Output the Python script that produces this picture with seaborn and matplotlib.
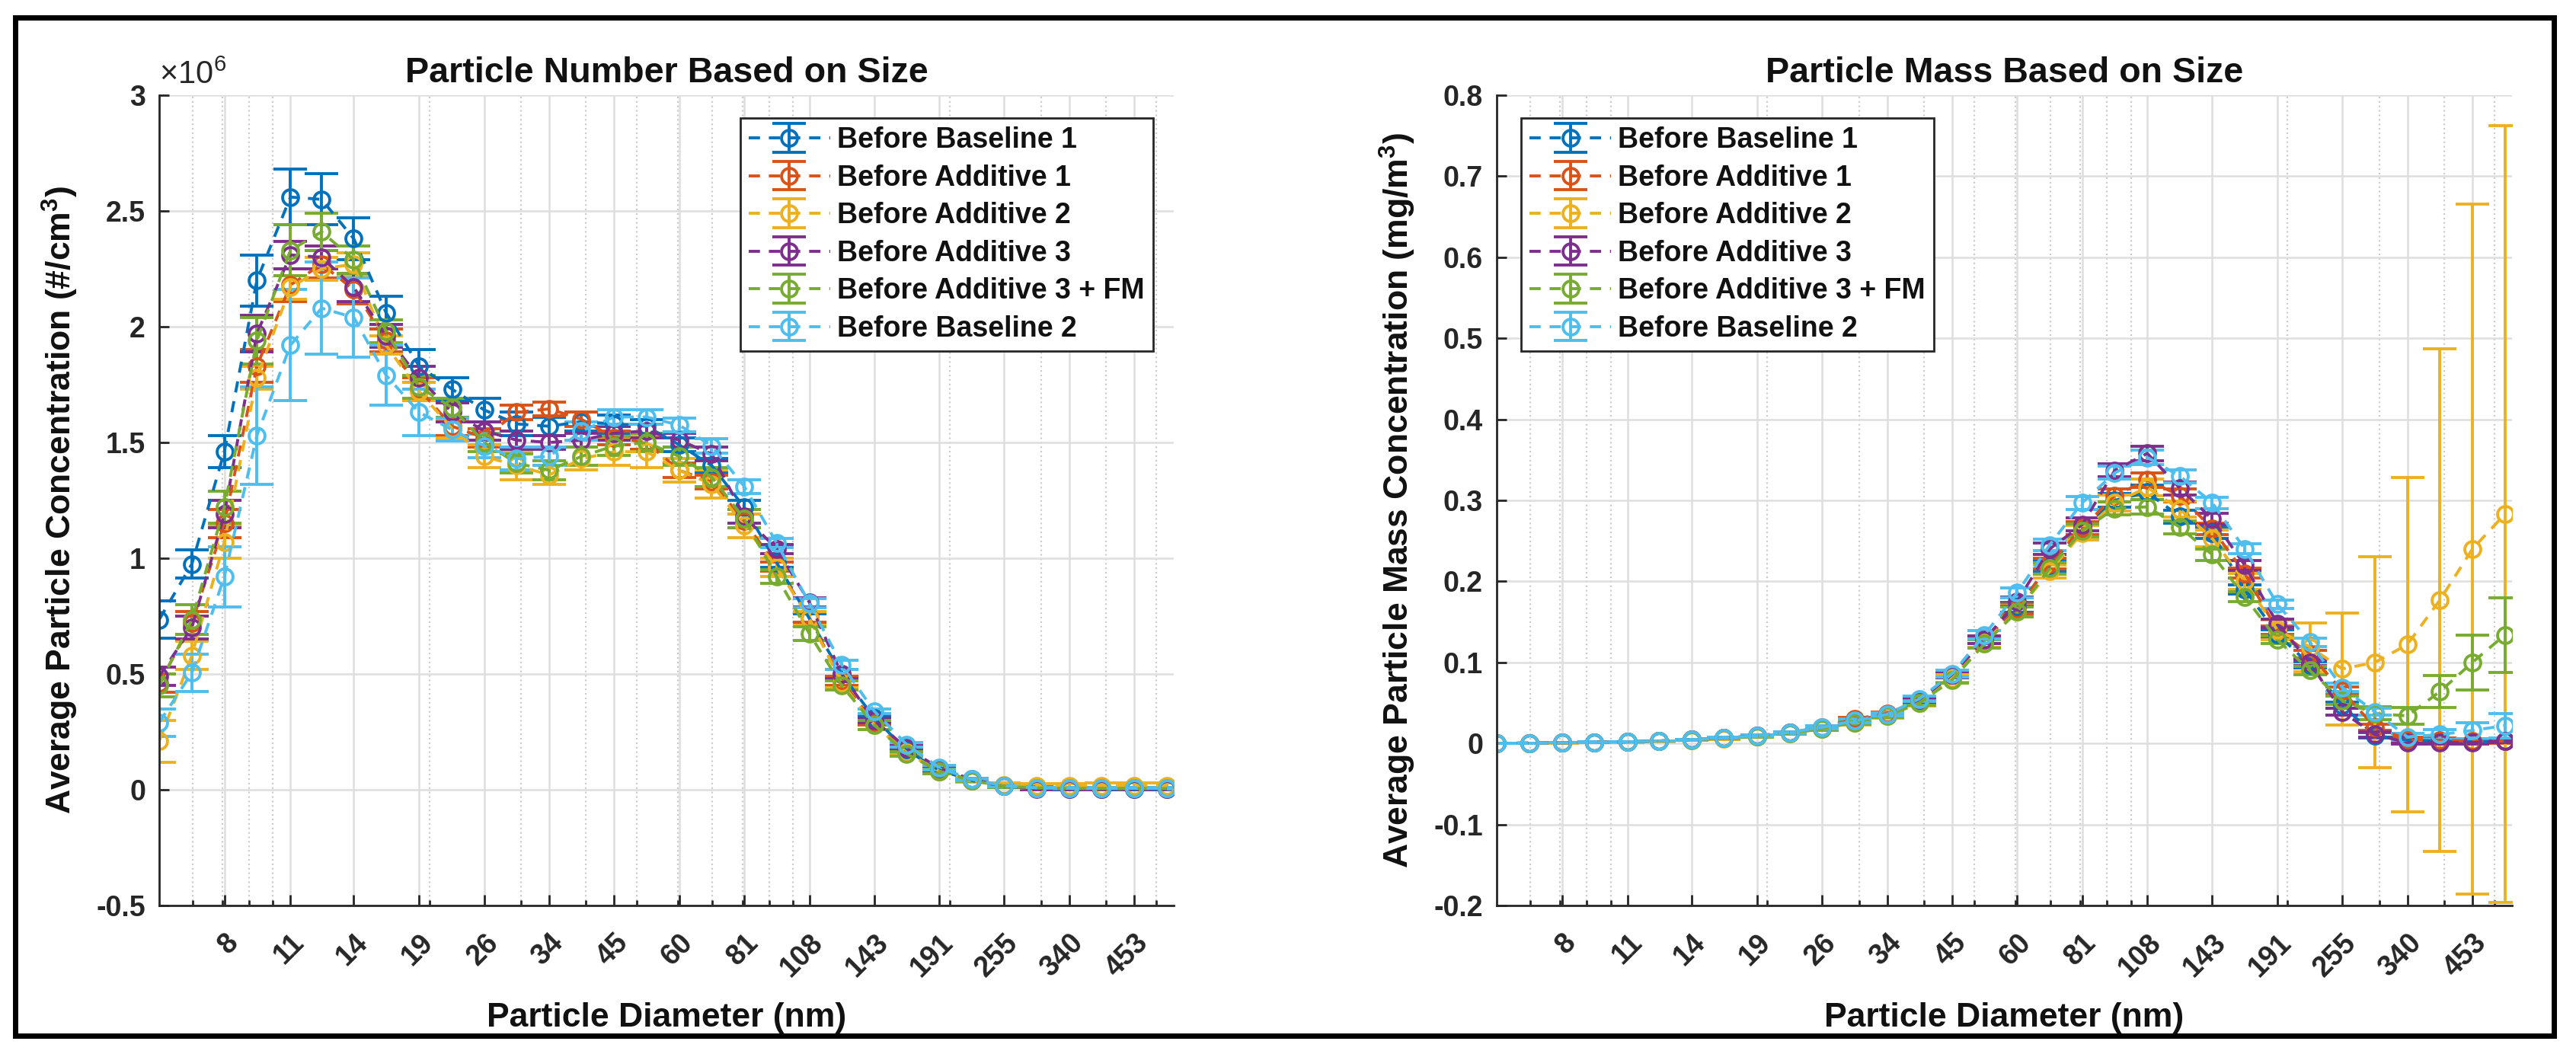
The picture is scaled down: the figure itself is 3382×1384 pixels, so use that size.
import numpy as np
import matplotlib
matplotlib.use('Agg')
import matplotlib.pyplot as plt
from matplotlib.ticker import LogLocator, NullFormatter
from matplotlib.patches import Rectangle
import seaborn as sns

# EEPS channel mid-point diameters (nm)
diameters = [6.04, 6.98, 8.06, 9.31, 10.8, 12.4, 14.3, 16.5, 19.1, 22.1, 25.5, 29.4,
             34.0, 39.2, 45.3, 52.3, 60.4, 69.8, 80.6, 93.1, 107.5, 124.1, 143.3, 165.5,
             191.1, 220.7, 254.8, 294.3, 339.8, 392.4, 453.2, 523.3]
tick_values = [8.06, 10.8, 14.3, 19.1, 25.5, 34.0, 45.3, 60.4, 80.6, 107.5, 143.3, 191.1,
               254.8, 339.8, 453.2]
tick_labels = ['8', '11', '14', '19', '26', '34', '45', '60', '81', '108', '143', '191',
               '255', '340', '453']

series_names = ['Before Baseline 1', 'Before Additive 1', 'Before Additive 2',
                'Before Additive 3', 'Before Additive 3 + FM', 'Before Baseline 2']
series_colors = ['#0072BD', '#D95319', '#EDB120', '#7E2F8E', '#77AC30', '#4DBEEE']

# particle number (x 10^6 #/cm3)
number_baseline_1 = [0.735, 0.975, 1.46, 2.20, 2.56, 2.55, 2.38, 2.06, 1.83, 1.73, 1.64, 1.58,
                     1.57, 1.59, 1.58, 1.57, 1.49, 1.40, 1.22, 0.98, 0.74, 0.50, 0.31, 0.17,
                     0.085, 0.04, 0.015, 0.006, 0.004, 0.003, 0.002, 0.002]
number_baseline_1_err = [0.08, 0.06, 0.07, 0.11, 0.12, 0.11, 0.09, 0.07, 0.07, 0.05, 0.05, 0.05,
                         0.04, 0.04, 0.04, 0.03, 0.03, 0.03, 0.03, 0.02, 0.02, 0.02, 0.01, 0.01,
                         0.01, 0.005, 0.004, 0.003, 0.003, 0.003, 0.003, 0.003]
number_additive_1 = [0.46, 0.72, 1.15, 1.83, 2.18, 2.27, 2.16, 1.94, 1.73, 1.57, 1.52, 1.63,
                     1.645, 1.60, 1.52, 1.50, 1.38, 1.33, 1.16, 0.965, 0.745, 0.47, 0.29, 0.16,
                     0.08, 0.04, 0.015, 0.008, 0.006, 0.005, 0.005, 0.005]
number_additive_1_err = [0.04, 0.05, 0.06, 0.07, 0.07, 0.06, 0.06, 0.05, 0.05, 0.04, 0.04, 0.03,
                         0.03, 0.03, 0.03, 0.03, 0.03, 0.03, 0.03, 0.02, 0.02, 0.02, 0.01, 0.01,
                         0.01, 0.005, 0.004, 0.004, 0.004, 0.004, 0.004, 0.004]
number_additive_2 = [0.21, 0.58, 1.07, 1.78, 2.17, 2.25, 2.27, 1.92, 1.72, 1.56, 1.44, 1.40,
                     1.36, 1.43, 1.46, 1.46, 1.38, 1.32, 1.14, 0.96, 0.74, 0.46, 0.28, 0.16,
                     0.08, 0.04, 0.02, 0.015, 0.015, 0.018, 0.018, 0.017]
number_additive_2_err = [0.09, 0.06, 0.07, 0.05, 0.05, 0.05, 0.05, 0.04, 0.04, 0.04, 0.05, 0.06,
                         0.04, 0.05, 0.06, 0.07, 0.05, 0.06, 0.05, 0.04, 0.03, 0.02, 0.02, 0.01,
                         0.01, 0.008, 0.008, 0.01, 0.012, 0.012, 0.012, 0.012]
number_additive_3 = [0.49, 0.70, 1.19, 1.97, 2.31, 2.30, 2.17, 1.96, 1.78, 1.63, 1.55, 1.51,
                     1.50, 1.51, 1.54, 1.55, 1.51, 1.45, 1.18, 1.04, 0.81, 0.50, 0.30, 0.18,
                     0.093, 0.045, 0.015, 0.003, 0.003, 0.003, 0.002, 0.002]
number_additive_3_err = [0.04, 0.05, 0.06, 0.08, 0.06, 0.05, 0.06, 0.05, 0.05, 0.04, 0.04, 0.04,
                         0.03, 0.03, 0.03, 0.03, 0.03, 0.03, 0.03, 0.02, 0.02, 0.02, 0.01, 0.01,
                         0.01, 0.005, 0.003, 0.002, 0.002, 0.002, 0.002, 0.002]
number_additive_3_fm = [0.45, 0.735, 1.22, 1.94, 2.33, 2.41, 2.29, 1.98, 1.74, 1.65, 1.50, 1.41,
                        1.38, 1.44, 1.485, 1.50, 1.44, 1.35, 1.17, 0.92, 0.675, 0.45, 0.28, 0.155,
                        0.08, 0.04, 0.015, 0.008, 0.006, 0.005, 0.005, 0.005]
number_additive_3_fm_err = [0.05, 0.065, 0.07, 0.10, 0.11, 0.08, 0.06, 0.05, 0.05, 0.04, 0.04, 0.04,
                            0.04, 0.04, 0.04, 0.04, 0.04, 0.04, 0.04, 0.03, 0.03, 0.02, 0.02, 0.01,
                            0.01, 0.005, 0.004, 0.003, 0.003, 0.003, 0.003, 0.003]
number_baseline_2 = [0.29, 0.505, 0.92, 1.53, 1.92, 2.08, 2.04, 1.79, 1.63, 1.555, 1.485, 1.43,
                     1.44, 1.55, 1.61, 1.61, 1.575, 1.485, 1.31, 1.065, 0.806, 0.54, 0.34, 0.195,
                     0.095, 0.045, 0.016, 0.008, 0.006, 0.006, 0.006, 0.006]
number_baseline_2_err = [0.06, 0.08, 0.13, 0.21, 0.24, 0.20, 0.17, 0.13, 0.10, 0.05, 0.05, 0.05,
                         0.04, 0.04, 0.03, 0.03, 0.03, 0.03, 0.03, 0.02, 0.02, 0.02, 0.01, 0.01,
                         0.01, 0.005, 0.004, 0.003, 0.003, 0.003, 0.003, 0.003]

# particle mass (mg/m3)
mass_baseline_1 = [0.0002, 0.0004, 0.0008, 0.0014, 0.002, 0.003, 0.0045, 0.0065, 0.009, 0.013,
                   0.019, 0.027, 0.035, 0.053, 0.085, 0.128, 0.168, 0.22, 0.265, 0.30, 0.31,
                   0.28, 0.26, 0.19, 0.135, 0.097, 0.047, 0.01, 0.004, 0.003, 0.002, 0.003]
mass_baseline_1_err = [0.0001, 0.0001, 0.0001, 0.0002, 0.0002, 0.0003, 0.0004, 0.0005, 0.0007,
                       0.001, 0.0015, 0.002, 0.002, 0.003, 0.004, 0.005, 0.006, 0.007, 0.008,
                       0.008, 0.009, 0.008, 0.007, 0.006, 0.005, 0.004, 0.004, 0.003, 0.002,
                       0.002, 0.002, 0.002]
mass_additive_1 = [0.0002, 0.0004, 0.0008, 0.0014, 0.002, 0.003, 0.0046, 0.0067, 0.0095, 0.0135,
                   0.02, 0.03, 0.037, 0.053, 0.085, 0.128, 0.166, 0.222, 0.266, 0.306, 0.325,
                   0.306, 0.265, 0.21, 0.14, 0.11, 0.065, 0.02, 0.005, 0.004, 0.003, 0.003]
mass_additive_1_err = [0.0001, 0.0001, 0.0001, 0.0002, 0.0002, 0.0003, 0.0004, 0.0005, 0.0007,
                       0.001, 0.0015, 0.002, 0.002, 0.003, 0.004, 0.005, 0.006, 0.007, 0.008,
                       0.008, 0.009, 0.008, 0.007, 0.006, 0.005, 0.005, 0.005, 0.004, 0.003,
                       0.003, 0.003, 0.003]
mass_additive_2 = [0.0002, 0.0004, 0.0007, 0.0012, 0.0018, 0.0028, 0.0042, 0.006, 0.0085, 0.0125,
                   0.018, 0.026, 0.034, 0.05, 0.08, 0.125, 0.163, 0.2125, 0.26, 0.297, 0.316,
                   0.289, 0.253, 0.20, 0.14, 0.119, 0.092, 0.10, 0.122, 0.177, 0.24, 0.283]
mass_additive_2_err = [0.0001, 0.0001, 0.0001, 0.0002, 0.0003, 0.0004, 0.0005, 0.0007, 0.001,
                       0.0015, 0.002, 0.003, 0.003, 0.004, 0.005, 0.006, 0.007, 0.008, 0.009,
                       0.01, 0.01, 0.01, 0.01, 0.01, 0.012, 0.03, 0.069, 0.13, 0.206, 0.31,
                       0.426, 0.479]
mass_additive_3 = [0.0002, 0.0004, 0.0008, 0.0014, 0.002, 0.003, 0.0045, 0.0066, 0.0092, 0.0132,
                   0.019, 0.028, 0.036, 0.053, 0.085, 0.128, 0.175, 0.24, 0.27, 0.337, 0.358,
                   0.315, 0.277, 0.22, 0.148, 0.10, 0.039, 0.011, 0.001, 0.001, 0.001, 0.003]
mass_additive_3_err = [0.0001, 0.0001, 0.0001, 0.0002, 0.0002, 0.0003, 0.0004, 0.0005, 0.0007,
                       0.001, 0.0015, 0.002, 0.002, 0.003, 0.004, 0.005, 0.006, 0.007, 0.008,
                       0.008, 0.009, 0.008, 0.007, 0.006, 0.005, 0.004, 0.004, 0.003, 0.002,
                       0.002, 0.002, 0.002]
mass_additive_3_fm = [0.0002, 0.0004, 0.0008, 0.0013, 0.002, 0.003, 0.0044, 0.0064, 0.0088,
                      0.0128, 0.018, 0.026, 0.034, 0.05, 0.078, 0.123, 0.1625, 0.216, 0.2625,
                      0.29, 0.292, 0.267, 0.233, 0.181, 0.128, 0.09, 0.053, 0.037, 0.034, 0.064,
                      0.10, 0.134]
mass_additive_3_fm_err = [0.0001, 0.0001, 0.0001, 0.0002, 0.0002, 0.0003, 0.0004, 0.0005, 0.0007,
                          0.001, 0.0015, 0.002, 0.002, 0.003, 0.004, 0.005, 0.006, 0.007, 0.008,
                          0.008, 0.009, 0.008, 0.007, 0.006, 0.005, 0.005, 0.005, 0.008, 0.01,
                          0.02, 0.034, 0.046]
mass_baseline_2 = [0.0002, 0.0004, 0.0008, 0.0014, 0.0021, 0.0031, 0.0047, 0.0068, 0.0095,
                   0.0137, 0.02, 0.028, 0.036, 0.055, 0.086, 0.134, 0.186, 0.245, 0.297, 0.334,
                   0.353, 0.33, 0.297, 0.24, 0.172, 0.125, 0.069, 0.039, 0.008, 0.011, 0.016,
                   0.022]
mass_baseline_2_err = [0.0001, 0.0001, 0.0001, 0.0002, 0.0002, 0.0003, 0.0004, 0.0005, 0.0007,
                       0.001, 0.0015, 0.002, 0.002, 0.003, 0.004, 0.005, 0.006, 0.007, 0.008,
                       0.008, 0.009, 0.008, 0.007, 0.006, 0.005, 0.005, 0.005, 0.004, 0.004,
                       0.006, 0.01, 0.015]

number_ticks = [-0.5, 0, 0.5, 1, 1.5, 2, 2.5, 3]
mass_ticks = [-0.2, -0.1, 0, 0.1, 0.2, 0.3, 0.4, 0.5, 0.6, 0.7, 0.8]

number_values = [number_baseline_1, number_additive_1, number_additive_2,
                 number_additive_3, number_additive_3_fm, number_baseline_2]
number_errors = [number_baseline_1_err, number_additive_1_err, number_additive_2_err,
                 number_additive_3_err, number_additive_3_fm_err, number_baseline_2_err]
mass_values = [mass_baseline_1, mass_additive_1, mass_additive_2,
               mass_additive_3, mass_additive_3_fm, mass_baseline_2]
mass_errors = [mass_baseline_1_err, mass_additive_1_err, mass_additive_2_err,
               mass_additive_3_err, mass_additive_3_fm_err, mass_baseline_2_err]

sns.set_theme(style='whitegrid', palette=sns.color_palette(series_colors))
plt.rcParams['font.family'] = ['Liberation Sans', 'DejaVu Sans']
plt.rcParams.update({
    'font.weight': 'bold',
    'axes.titleweight': 'bold',
    'axes.labelweight': 'bold',
    'mathtext.fontset': 'custom',
    'mathtext.rm': 'Liberation Sans',
    'mathtext.bf': 'Liberation Sans:bold',
    'mathtext.it': 'Liberation Sans:italic',
    'mathtext.default': 'bf',
    'text.color': '#111111',
    'axes.labelcolor': '#111111',
    'xtick.color': '#262626',
    'ytick.color': '#262626',
})

W, H, DPI = 3382, 1384, 200


def draw_panel(ax, values, errors, ticks, ylim, title, ylabel, legend_loc, legend_anchor):
    for name, color, y, e in zip(series_names, series_colors, values, errors):
        ax.errorbar(diameters, y, yerr=e, color=color, linestyle='--', dashes=(3.8, 3.0),
                    linewidth=1.4, marker='o', markersize=7.5, markerfacecolor='none',
                    markeredgewidth=1.4, elinewidth=1.4, capsize=8, capthick=1.4, label=name)

    ax.set_xscale('log')
    ax.set_xlim(6.04, 540)
    ax.set_ylim(*ylim)
    ax.set_xticks(tick_values)
    ax.set_xticklabels(tick_labels)
    ax.xaxis.set_minor_locator(LogLocator(base=10, subs=np.arange(1, 10), numticks=40))
    ax.xaxis.set_minor_formatter(NullFormatter())
    ax.set_yticks(ticks)
    ax.set_yticklabels([f'{t:g}' for t in ticks])

    ax.set_axisbelow(True)
    ax.grid(True, which='major', color='#DEDEDE', linewidth=0.9, linestyle='-')
    ax.grid(True, which='minor', axis='x', color='#CDCDCD', linewidth=0.8, linestyle=':')
    ax.grid(False, which='minor', axis='y')

    sns.despine(ax=ax)
    for side in ('left', 'bottom'):
        ax.spines[side].set_color('#262626')
        ax.spines[side].set_linewidth(1.0)
    ax.tick_params(which='both', direction='in', width=1.0, colors='#262626',
                   top=False, right=False, left=True, bottom=True, labelsize=13.5)
    ax.tick_params(axis='y', which='major', length=4.5, pad=6.5)
    ax.tick_params(axis='x', which='major', length=5, pad=11, labelrotation=45)
    ax.tick_params(axis='x', which='minor', length=2.6)

    ax.set_title(title, fontsize=16.8, fontweight='bold', pad=6)
    ax.set_xlabel('Particle Diameter (nm)', fontsize=16)
    ax.set_ylabel(ylabel, fontsize=16)
    ax.xaxis.set_label_coords(0.5, -0.119)
    ax.yaxis.set_label_coords(-0.078, 0.5)

    leg = ax.legend(loc=legend_loc, bbox_to_anchor=legend_anchor, borderaxespad=0,
                    handlelength=2.85, handletextpad=0.25, borderpad=0.3,
                    labelspacing=0.36, fancybox=False, framealpha=1, edgecolor='#262626',
                    prop={'weight': 'bold', 'size': 13.5})
    leg.get_frame().set_linewidth(1.0)


def rotate_ticklabels(ax):
    for lbl in ax.get_xticklabels():
        lbl.set_rotation(45)
        lbl.set_horizontalalignment('right')
        lbl.set_verticalalignment('top')
        lbl.set_rotation_mode('anchor')


fig = plt.figure(figsize=(W / DPI, H / DPI), dpi=DPI)
ax_num = fig.add_axes([209 / W, (H - 1189) / H, 1332 / W, 1064 / H])
ax_mass = fig.add_axes([1965 / W, (H - 1189) / H, 1333 / W, 1064 / H])

draw_panel(ax_num, number_values, number_errors, number_ticks, (-0.5, 3),
           'Particle Number Based on Size', 'Average Particle Concentration (#/cm$^{3}$)',
           'upper right', (0.9797, 0.9718))
ax_num.text(0.0, 1.006, r'$\mathregular{\times10^{6}}$', transform=ax_num.transAxes,
            ha='left', va='bottom', fontsize=15, fontweight='normal', color='#262626')

draw_panel(ax_mass, mass_values, mass_errors, mass_ticks, (-0.2, 0.8),
           'Particle Mass Based on Size', 'Average Particle Mass Concentration (mg/m$^{3}$)',
           'upper left', (0.024, 0.9718))

# outer black frame
fig.add_artist(Rectangle((19.5 / W, (H - 1360) / H), (3353 - 19.5) / W, (1360 - 22.5) / H,
                         transform=fig.transFigure, fill=False, edgecolor='black',
                         linewidth=2.5))

fig.canvas.draw()
rotate_ticklabels(ax_num)
rotate_ticklabels(ax_mass)

fig.savefig('out.png', dpi=DPI)
